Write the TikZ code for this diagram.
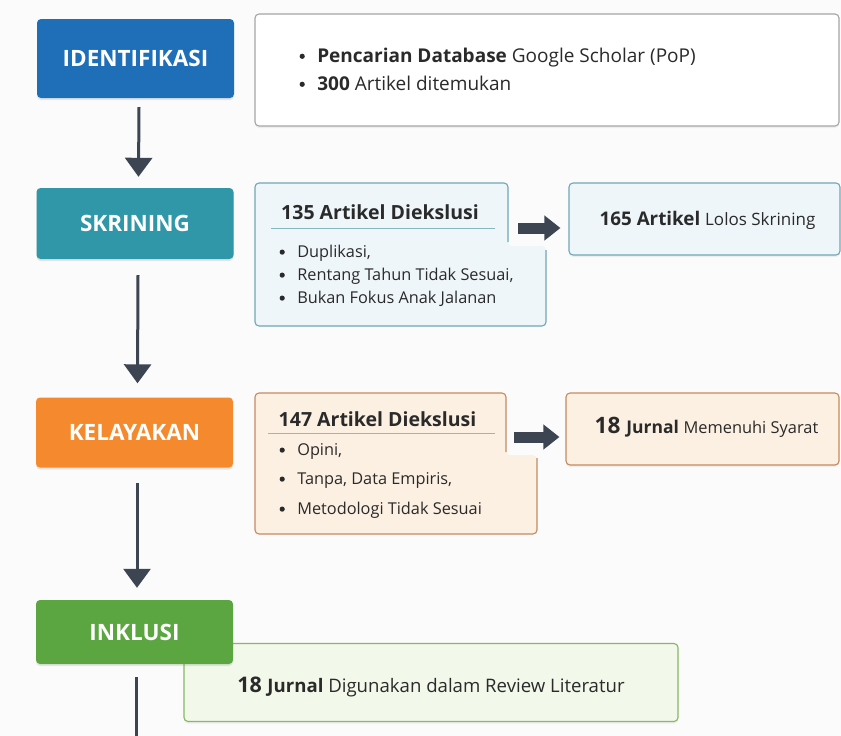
\documentclass[tikz,border=0pt]{standalone}
\usepackage{fontspec}
\setmainfont{Open Sans}
\usetikzlibrary{arrows.meta,shadows}
\definecolor{bgcol}{HTML}{FBFBFB}
\definecolor{cblue}{HTML}{1F6EB8}
\definecolor{cteal}{HTML}{2F97A8}
\definecolor{corange}{HTML}{F48A2D}
\definecolor{cgreen}{HTML}{5CA642}
\definecolor{darr}{HTML}{3D4452}
\definecolor{txt}{HTML}{2A2A2A}
\definecolor{lblue}{HTML}{EEF6FA}
\definecolor{bblue}{HTML}{6FA7B7}
\definecolor{ublue}{HTML}{86B6C2}
\definecolor{lorange}{HTML}{FCF0E2}
\definecolor{borange}{HTML}{C68A5E}
\definecolor{uorange}{HTML}{DDA270}
\definecolor{lgreen}{HTML}{F2F8EA}
\definecolor{bgreen}{HTML}{86B865}
\definecolor{bgray}{HTML}{A5A5A5}
\newcommand{\bpt}{\tikz[baseline={(0pt,-0.3em)}]\fill[txt] (0pt,0pt) circle[radius=2.6pt];\hspace{12.5pt}}
\begin{document}
\begin{tikzpicture}[x=1pt,y=-1pt,
  stage/.style={rectangle, rounded corners=4pt, text=white, inner sep=0pt,
    font=\bfseries\fontsize{22.5}{26}\selectfont, minimum width=197pt,
    drop shadow={opacity=0.18, shadow xshift=0pt, shadow yshift=-2pt}},
  infobox/.style={rectangle, rounded corners=4pt, inner sep=0pt, line width=1.1pt,
    drop shadow={opacity=0.10, shadow xshift=0pt, shadow yshift=-2pt}},
  hidden/.style={rectangle, inner sep=0pt},
  btxt/.style={anchor=base west, text=txt, inner sep=0pt, font=\fontsize{16.3}{19}\selectfont},
  head/.style={anchor=base, text=txt, inner sep=0pt, font=\bfseries\fontsize{19.5}{22}\selectfont},
  ctxt/.style={anchor=base, text=txt, inner sep=0pt},
  varrow/.style={draw=darr, line width=3pt, -{Triangle[width=27pt,length=19pt]}},
  harrow/.style={draw=darr, line width=11pt, -{Triangle[width=24pt,length=16pt]}}
]
\fill[bgcol] (0,0) rectangle (841,736);
\useasboundingbox (0,0) rectangle (841,736);

% stage boxes
\node[stage, fill=cblue, minimum height=79pt] (ident) at (135.5,58.5) {IDENTIFIKASI};
\node[stage, fill=cteal, minimum height=71pt] (skr) at (135,223.5) {SKRINING};
\node[stage, fill=corange, minimum height=70pt] (kel) at (134.5,432.5) {KELAYAKAN};

% identification info
\node[infobox, fill=white, draw=bgray, minimum width=584pt, minimum height=112pt] (idinfo) at (547,70) {};
\node[btxt, font=\fontsize{19}{22}\selectfont] (id1) at (299.4,62) {\bpt\textbf{Pencarian Database} Google Scholar (PoP)};
\node[btxt, font=\fontsize{19}{22}\selectfont] (id2) at (299.4,90) {\bpt\textbf{300} Artikel ditemukan};

% screening exclusion (stepped box)
\fill[lblue, rounded corners=4pt] (255,183) -- (508,183) -- (508,246) -- (546,246) -- (546,326) -- (255,326) -- cycle;
\draw[bblue, line width=1.1pt, rounded corners=4pt] (508,242) -- (508,183) -- (255,183) -- (255,326) -- (546,326) -- (546,250);
\node[hidden, minimum width=253pt, minimum height=62pt] (exc1) at (381.5,214) {};
\node[head] (exc1h) at (380,219) {135 Artikel Diekslusi};
\draw[ublue, line width=1pt] (271,228) -- (495,228);
\node[btxt] (e11) at (279.4,257) {\bpt Duplikasi,};
\node[btxt] (e12) at (279.4,280) {\bpt Rentang Tahun Tidak Sesuai,};
\node[btxt] (e13) at (279.4,303) {\bpt Bukan Fokus Anak Jalanan};

\node[infobox, fill=lblue, draw=bblue, minimum width=271pt, minimum height=72pt] (pass1) at (704.5,219) {};
\node[ctxt] (pass1t) at (707.5,225) {\fontsize{18.8}{22}\selectfont\textbf{165 Artikel} \fontsize{17}{20}\selectfont Lolos Skrining};

% eligibility exclusion (stepped box)
\fill[lorange, rounded corners=4pt] (255,393) -- (506,393) -- (506,455) -- (537,455) -- (537,534) -- (255,534) -- cycle;
\draw[borange, line width=1.1pt, rounded corners=4pt] (506,452) -- (506,393) -- (255,393) -- (255,534) -- (537,534) -- (537,458);
\node[hidden, minimum width=251pt, minimum height=62pt] (exc2) at (380.5,424) {};
\node[head] (exc2h) at (377.5,426) {147 Artikel Diekslusi};
\draw[uorange, line width=1pt] (268,433) -- (495,433);
\node[btxt] (e21) at (279.4,455) {\bpt Opini,};
\node[btxt] (e22) at (279.4,484) {\bpt Tanpa, Data Empiris,};
\node[btxt] (e23) at (279.4,514) {\bpt Metodologi Tidak Sesuai};

\node[infobox, fill=lorange, draw=borange, minimum width=273pt, minimum height=72pt] (pass2) at (702.5,429) {};
\node[ctxt] (pass2t) at (706.5,433) {\fontsize{22.6}{26}\selectfont\textbf{18} \fontsize{17.5}{20}\selectfont\textbf{Jurnal} \fontsize{16.4}{20}\selectfont Memenuhi Syarat};

% inclusion
\node[infobox, fill=lgreen, draw=bgreen, minimum width=494pt, minimum height=78pt] (final) at (431,682.5) {};
\node[ctxt] (finalt) at (431,692) {\fontsize{21.5}{24}\selectfont\textbf{18} \fontsize{18.6}{22}\selectfont\textbf{Jurnal} Digunakan dalam Review Literatur};
\node[stage, fill=cgreen, minimum height=64pt] (ink) at (134.5,632) {INKLUSI};
\coordinate (bottomend) at (136,745);

% connectors
\draw[varrow] ([xshift=3.5pt,yshift=-9pt]ident.south) -- ([xshift=3.5pt,yshift=11pt]skr.north);
\draw[varrow] ([xshift=3pt,yshift=-16pt]skr.south) -- ([xshift=3pt,yshift=14pt]kel.north);
\draw[varrow] ([xshift=2.5pt,yshift=-15.5pt]kel.south) -- ([xshift=2.5pt,yshift=12pt]ink.north);
\draw[draw=darr, line width=3pt] ([xshift=1.5pt,yshift=-13pt]ink.south) -- (bottomend);
\draw[harrow] ([xshift=10pt,yshift=-14pt]exc1.east) -- ([xshift=-8pt,yshift=-9pt]pass1.west);
\draw[harrow] ([xshift=8pt,yshift=-13pt]exc2.east) -- ([xshift=-6pt,yshift=-8pt]pass2.west);
\end{tikzpicture}
\end{document}
